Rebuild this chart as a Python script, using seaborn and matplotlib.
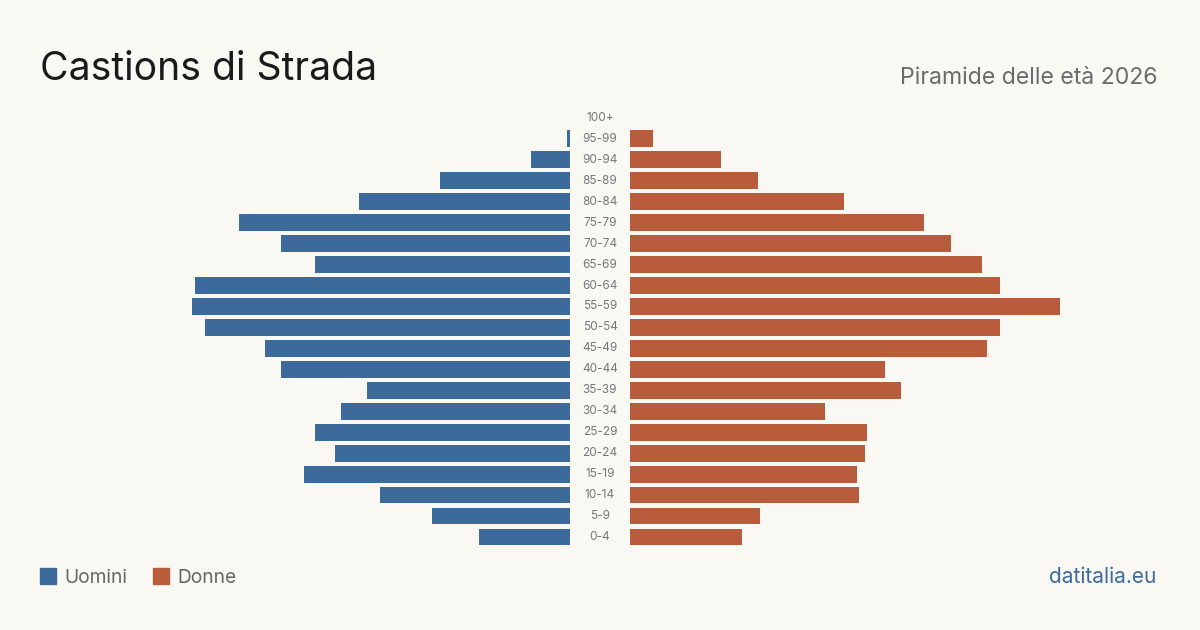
import seaborn as sns
from matplotlib import pyplot as plt
from matplotlib.patches import Rectangle
import matplotlib.transforms as mtransforms
import pandas as pd

# age classes, top of the pyramid first
ages = ["100+", "95-99", "90-94", "85-89", "80-84", "75-79", "70-74", "65-69",
        "60-64", "55-59", "50-54", "45-49", "40-44", "35-39", "30-34", "25-29",
        "20-24", "15-19", "10-14", "5-9", "0-4"]
uomini = [0, 1, 15, 50, 81, 127, 111, 98, 144, 145, 140, 117, 111, 78, 88, 98,
          90, 102, 73, 53, 35]
donne = [0, 9, 35, 49, 82, 113, 123, 135, 142, 165, 142, 137, 98, 104, 75, 91,
         90, 87, 88, 50, 43]

df = pd.DataFrame({"age": ages, "Uomini": uomini, "Donne": donne})

blue = "#3b6a9b"
orange = "#b85c3b"
bg = "#faf8f3"

sns.set_theme(style="white")
plt.rcParams["font.family"] = ["Inter", "DejaVu Sans"]

fig = plt.figure(figsize=(12, 6.3), dpi=100, facecolor=bg)
bottom, height = 0.131, 0.6985
ax_l = fig.add_axes([40 / 1200, bottom, 530 / 1200, height])
ax_r = fig.add_axes([630 / 1200, bottom, 530 / 1200, height])

sns.barplot(data=df, x="Uomini", y="age", order=ages, color=blue, width=0.8,
            saturation=1, linewidth=0, ax=ax_l)
sns.barplot(data=df, x="Donne", y="age", order=ages, color=orange, width=0.8,
            saturation=1, linewidth=0, ax=ax_r)

xmax = 203.4
ax_l.set_xlim(xmax, 0)
ax_r.set_xlim(0, xmax)
for ax in (ax_l, ax_r):
    ax.set_facecolor(bg)
    ax.set_xlabel("")
    ax.set_ylabel("")
    ax.set_xticks([])
    ax.set_yticks([])
    sns.despine(ax=ax, left=True, bottom=True)

# age labels in the middle gap
trans = mtransforms.blended_transform_factory(ax_r.transAxes, ax_r.transData)
for i, a in enumerate(ages):
    ax_r.text(-30 / 530, i, a, transform=trans, ha="center", va="center",
              fontsize=8.5, color="#777777")

fig.text(40 / 1200, 1 - 80 / 630, "Castions di Strada", fontsize=28.2,
         color="#1a1a1a", ha="left", va="baseline")
fig.text(1158 / 1200, 1 - 84 / 630, "Piramide delle età 2026", fontsize=16.6,
         color="#6b6b6b", ha="right", va="baseline")

# legend
for x0, label, col in [(40, "Uomini", blue), (153, "Donne", orange)]:
    fig.patches.append(Rectangle((x0 / 1200, 1 - 584 / 630), 16 / 1200, 16 / 630,
                                 transform=fig.transFigure, color=col))
    fig.text((x0 + 24) / 1200, 1 - 583 / 630, label, fontsize=13.8,
             color="#666666", ha="left", va="baseline")

fig.text(1156 / 1200, 1 - 583 / 630, "datitalia.eu", fontsize=15,
         color=blue, ha="right", va="baseline")

plt.savefig("out.png", dpi=100, facecolor=bg)
